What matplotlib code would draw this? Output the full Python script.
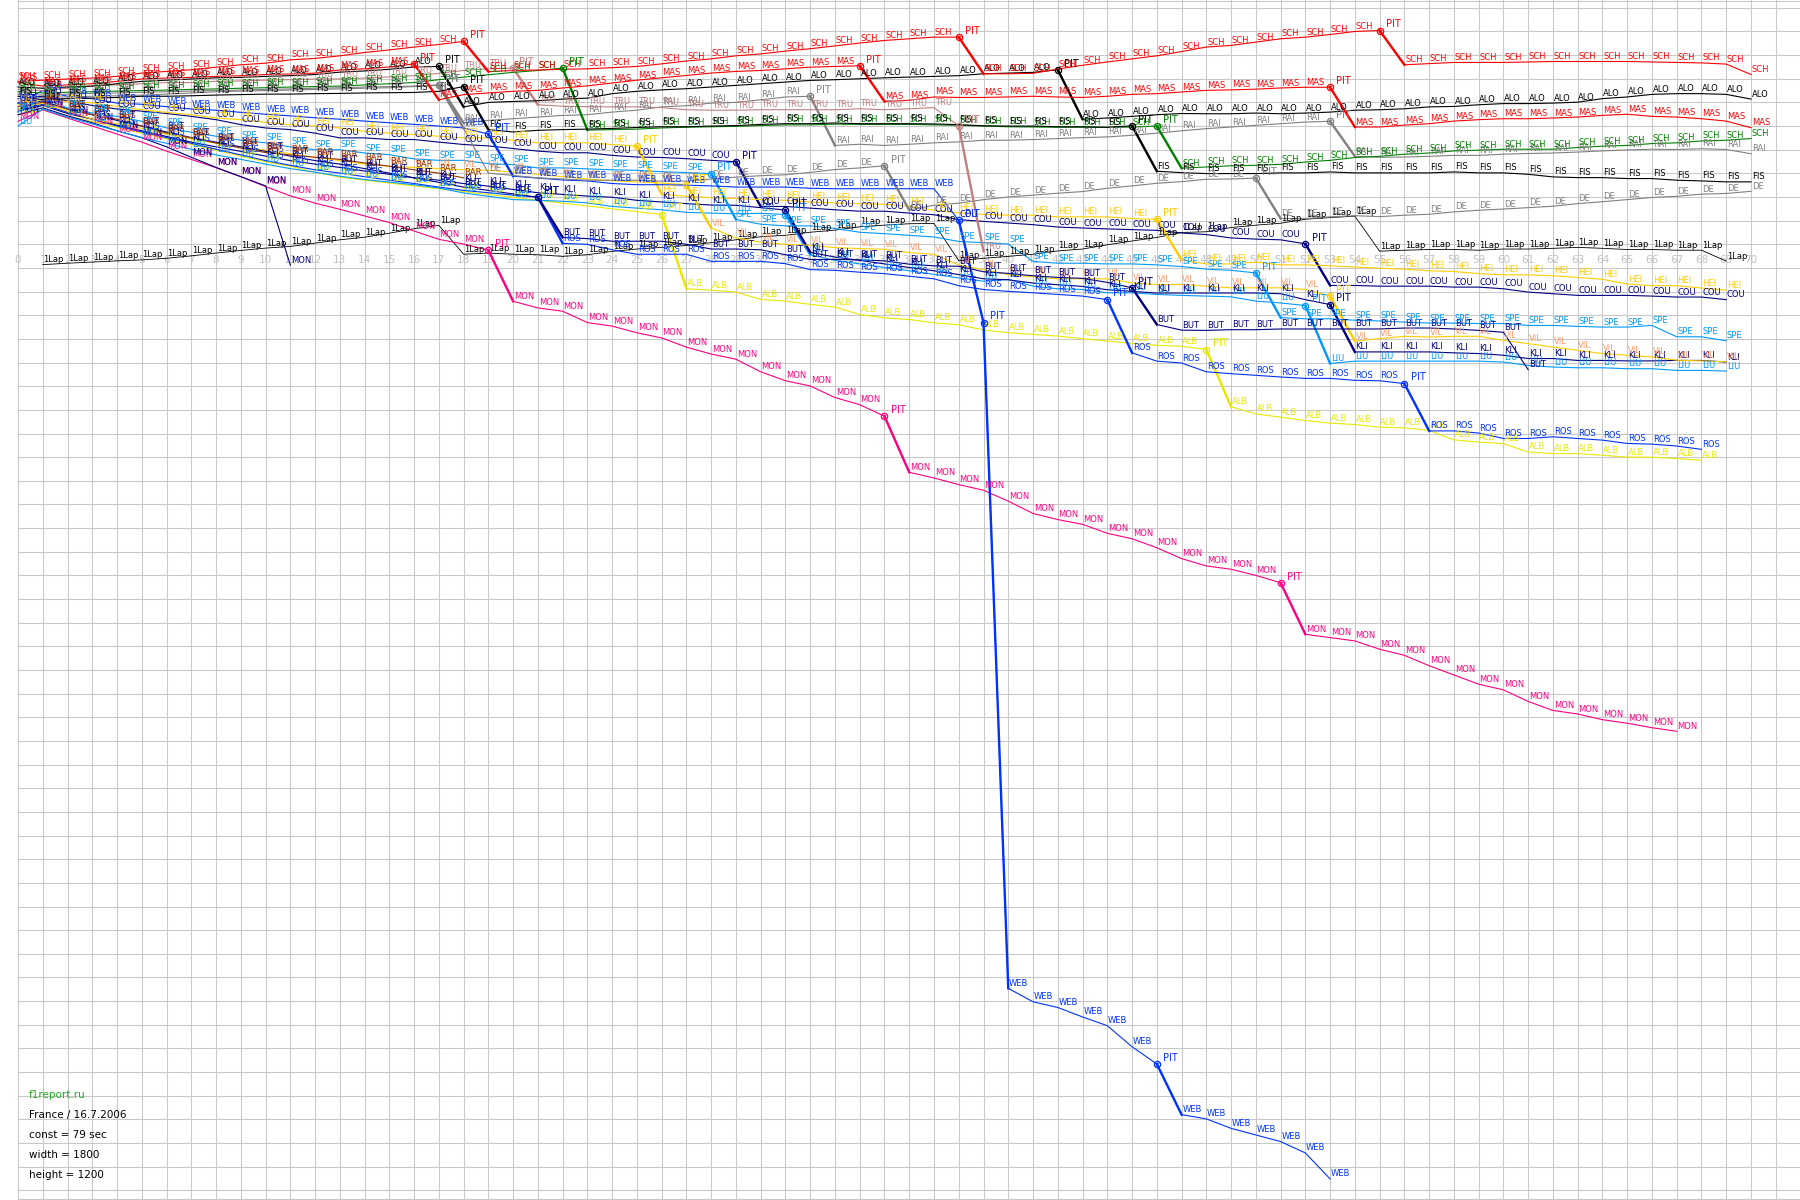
import numpy as np
import matplotlib.pyplot as plt

# gap in seconds against a 79 s/lap reference, one value per lap from lap 0
sch = [75.5, 76, 76.5, 76.9, 77.6, 79, 79.7, 80.4, 81.5, 82.5, 83.2, 84.6, 85.2, 86.3, 87.7, 88.8, 90, 91.1, 92.4,
       79.6, 80.1, 80.3, 80.6, 80.8,
       81.3, 81.8, 82.9, 84.1, 85, 86.3, 87.1, 88.3, 89.3, 90.5, 91.7, 92.8, 93.5, 94.2, 94.2,
       78.7, 78.7, 78.9, 80.7, 82.3, 83.7, 85, 86.3, 88.1, 90, 90.7, 92.1, 93.5, 94.2, 95.3, 96.6, 97,
       82.5, 83, 83.5, 83.5, 83.5, 83.7, 83.9, 83.9, 83.9, 83.9, 83.7, 83.5, 83.3, 82.8, 78.4]
mas = [75, 73.5, 74, 74.5, 75.5, 76.5, 76.9, 77.2, 77.6, 77.9, 78.4, 78.6, 79, 80.3, 80.8, 81.6, 82.9,
       67.7, 69.9, 70.6, 71.3, 71.7, 72.7, 73.6, 74.8, 76, 77, 78, 79, 79.7, 80.1, 80.8, 81.5, 81.8, 82.1,
       67, 67.5, 68.9, 68.7, 68.7, 68.9, 69.2, 68.9, 68.7, 69.2, 70, 70.3, 71, 71.7, 71.9, 72.2, 72.7, 73, 73,
       56.2, 56.2, 57, 57.6, 58.7, 59.3, 59.7, 59.7, 60, 60.4, 61.1, 61.6, 60.7, 60.4, 59.7, 58.7, 55.9]
alo = [73.1, 72.6, 73.1, 73.5, 74.5, 75.5, 76, 76.5, 77, 77.2, 77.6, 77.9, 78.4, 79.4, 79.9, 80.6, 81.6, 81.8,
       64.7, 66.6, 67, 67.3, 68, 68.4, 70.3, 71.3, 71.9, 72.4, 73.1, 73.8, 74.5, 75.2, 75.9, 76.2, 76.6, 77,
       77.3, 77.6, 77.9, 78.7, 79, 79.3, 80.4,
       59.5, 60, 60.7, 61.4, 61.9, 61.8, 61.8, 62.1, 61.8, 62.1, 62.5, 63.3, 63.5, 63.9, 64.7, 64.9, 65.6,
       66.1, 66.1, 66.3, 66.7, 68.2, 68.9, 70, 70.3, 70.3, 70, 68]
fis = [69.2, 67.7, 68.2, 68.4, 68.7, 69.2, 69.2, 69.4, 69.7, 69.9, 70.1, 70.1, 70.3, 70.4, 70.6, 70.7, 70.8, 71.3, 73.3,
       55.1, 54.1, 54.8, 55.1, 55.3, 55.6, 56, 56.3, 56.3, 56.6, 56.8, 57.3, 57.6, 57.6, 57.9, 57.6, 57.6, 57.6,
       57.5, 57.2, 56.7, 56.6, 56.6, 56.3, 56.3, 56.1, 56.7,
       37.5, 36.9, 36.5, 36.5, 36.5, 36.8, 36.8, 37.2, 36.8, 36.8, 36.8, 36.8, 37.2, 36.8, 36.8, 36.2, 35.1,
       34.8, 34.8, 34.4, 34.4, 33.7, 33.4, 33, 33]
sch_r = [71.1, 70.6, 70.9, 71.1, 71.4, 71.6, 71.8, 72.1, 72.3, 72.6, 72.8, 73.1, 73.3, 73.5, 74, 74.5, 75, 76.2,
         77.3, 78.3, 79.3, 80.1, 81.1,
         54.9, 55.1, 55.3, 55.8, 56.1, 56.3, 56.5, 56.8, 57.1, 57.1, 57.4, 57.3, 57.3, 57.3, 57.1, 56.9, 56.6,
         56.3, 56.2, 56.1, 56.1, 56, 56.2, 56.6,
         38.8, 39.3, 39.8, 40, 40.4, 41.4, 42.1, 43.3, 43.8, 44.7, 45.2, 46.1, 46.4, 46.8, 46.8, 46.8, 47.5,
         48.1, 48.4, 49.2, 49.5, 50.3, 50.6, 51.3]
tru = [72.1, 71.6, 72.6, 73.5, 74, 74.5, 75, 75, 75.5, 75.7, 76, 76.2, 76.5, 76.5, 76.9, 77.4, 77.9, 78.9, 80.1,
       80.8, 81.1,
       65.6, 65, 64.8, 64.7, 64.7, 64.4, 63.5, 63.3, 63.3, 63.5, 63.5, 63.5, 63.5, 63.9, 63.5, 63.9, 64.4,
       56.7, 3.6]
rai = [70.1, 69.7, 70.1, 70.4, 70.6, 70.9, 71.1, 71.4, 71.6, 71.8, 72.1, 72.3, 72.6, 72.8, 73.1, 73.3, 73.5, 74,
       57.9, 59, 59.7, 60.4, 61.1, 61.4, 62.5, 63.3, 64.7, 65.2, 66.3, 66.6, 67.7, 68.9, 69.2,
       48.4, 48.9, 48.4, 48.9, 49.5, 49.9, 50.6, 50.6, 50.9, 51.3, 51.7, 52, 52.7, 53.6, 54.6, 55.5, 56.2,
       56.9, 57.6, 58.3, 58.6,
       43.8, 43.4, 43.5, 43.8, 44.2, 44.2, 44.7, 45, 45.2, 45.6, 46.1, 46.5, 46.8, 46.7, 47, 46.7, 44.9]
dlr = [68.2, 68.7, 68.9, 69.2, 69.4, 69.7, 70.1, 70.6, 71.1, 71.4, 71.6, 71.8, 72.1, 72.3, 72.6, 72.8, 73.3, 73.8,
       55.6, 36.7, 35.7, 34.7, 34.2, 33.7, 33.7, 33.7, 33.3, 33.3, 34.2, 35, 35.6, 36, 37, 38.2, 38.9, 39.8,
       21.1, 23.1, 24, 25.5, 26.6, 27.4, 28.2, 28.9, 30.3, 31.3, 32.4, 33.1, 34.1, 34.2, 34.6,
       17.5, 17.5, 18.2, 18.7, 18.3, 18.9, 19.3, 20.3, 21, 21.5, 22.1, 22.7, 23.8, 24.6, 25.5, 26.4, 26.9,
       27.8, 28.1, 29]
web = [66.3, 71.6, 69.2, 68.2, 66.3, 65.8, 64.8, 63.8, 63.3, 62.4, 61.6, 60.9, 60.1, 59.5, 58.7, 58, 57.3, 56.6,
       55.8, 53.2,
       35.4, 34.6, 33.8, 33.4, 32.3, 31.8, 31.8, 31.6, 31.3, 30.8, 30.8, 30.8, 30.3, 30.1, 30.1, 30.1, 30.1, 30.1,
       16.7, -26.5, -308, -313.7, -316.1, -320.1, -323.8, -332.7, -340, -361.4, -363.2, -367.2, -370, -372.8,
       -377.6, -388.6]
hei = [65.6, 67.8, 67, 66.4, 64.9, 63.5, 62.4, 61.4, 60, 59.3, 58.2, 57.2, 56.6, 55.8, 54.4, 53.6, 53, 52.3,
       51.6, 51.6, 50.6, 49.5, 49.5, 49.5, 48.8, 48.1,
       27.8, 26.9, 26.3, 26, 25.5, 25.2, 24.5, 24.1, 23.8, 23.5, 22.7, 21, 19.9, 19.3, 18.9, 18.9, 18.2, 18.2,
       18.2, 17.5, 17.1,
       0.1, -1.7, -1.7, -0.9, -2.1, -2.1, -2.5, -3, -3.5, -3.9, -4.6, -4.9, -5.8, -6.3, -6.3, -6.7, -7.4, -8.2,
       -10.2, -10.9, -10.9, -11.9, -12.8]
cou = [68.2, 69.2, 67.2, 65.3, 63.8, 62.9, 61.9, 60.7, 59.3, 57.2, 55.8, 55.1, 53.6, 51.6, 51.6, 50.9, 50.9,
       49.8, 48.8, 48.2, 47.1, 46, 45.3, 45.3, 44.2, 43.5, 43.3, 42.8, 42.1, 41.5,
       22.6, 22.6, 21.9, 21.2, 20.6, 20.6, 19.8, 19.1, 17, 16.3, 15.6, 14.9, 13.9, 13.5, 13.1, 12.8, 12.5, 11.4,
       10.7, 9.3, 8.8, 8.5, 6.8,
       -10.8, -10.8, -11.1, -11.1, -11.1, -11.5, -11.5, -12.2, -13.6, -14.3, -15, -15, -15, -15.3, -15.7,
       -15.7, -16.8]
spe = [62.4, 68.2, 64.3, 62.1, 60.7, 58.6, 55.8, 54, 52.3, 50.6, 49.5, 47.8, 46.6, 46.6, 45.2, 44.5, 42.7, 42.1,
       42.1, 40.7, 40.3, 38.9, 38.9, 38.5, 38.1, 37.9, 37.3, 36.9, 36.5,
       17.1, 15.1, 14.4, 14.4, 13.3, 11.7, 11.1, 10.4, 9.7, 7.8, 7.3, 6.7, -0.6, -1.4, -1.4, -1.7, -1.7, -2.1,
       -2.8, -3.9, -4.4, -5.5,
       -24.4, -24.9, -24.9, -25.5, -25.8, -26.3, -26.7, -26.7, -26.9, -26.9, -27.7, -27.7, -28.1, -28.4,
       -28.4, -27.7, -32.5, -32.5, -34.2]
vil = [63.8, 66.3, 62.9, 59.5, 57.5, 55.6, 53.2, 51.2, 49.3, 47.8, 46.4, 44.9, 43.4, 42, 40.5, 39.6, 39.1, 38.6,
       38.1, 37.9, 37.1, 36.2, 35.2, 34.2, 33.5, 33, 32.5, 31.8,
       13.5, 9.3, 7.5, 6.6, 6.2, 5.2, 4.8, 4.5, 3.1, 2.4, -2.2, -4.1, -6.2, -7.2, -8, -8, -8, -9.7, -10.4,
       -10.4, -11.1, -11.8, -11.8, -11.8, -12.5, -15.3,
       -34.3, -33.3, -32.3, -32.6, -32.3, -32.3, -34, -35.4, -36.8, -38.2, -39.6, -40.3, -41, -42.4, -42.7,
       -43.1]
kli = [62.9, 65.3, 61.9, 59.5, 57, 54.6, 52.2, 49.8, 47.8, 45.9, 43.9, 42, 40.5, 39.1, 37.6, 36.2, 34.7, 33.7,
       32.3, 31.2, 29.8, 28.4, 27.7, 27, 26.5, 25.2, 24.5, 23.8, 23.2, 23.1, 22.1, 21.1,
       3.2, 1.2, -0.2, -1.7, -3.2, -4.6, -6.2, -8, -8.4, -9.8, -10.5, -11.2, -12.6, -13.3, -14, -14, -14, -14,
       -14, -14.3, -16.8, -18.9,
       -38.9, -38.9, -38.9, -38.9, -39.3, -39.6, -40.3, -41.7, -41.7, -42.5, -42.5, -42.7, -42.7, -42.5,
       -42.5, -43.2]
liu = [56.6, 63.8, 60.4, 57.5, 54.6, 51.7, 49.3, 46.8, 44.4, 42.5, 40.5, 38.6, 37.1, 35.4, 34, 32.9, 31.8, 30.4,
       28.3, 26.9, 25.5, 25.2, 24.8, 24.1, 22.6, 21.9, 21.2, 20.1, 19.8, 19.5, 19.7, 19.2,
       2.2, -0.2, -1.7, -3.2, -4.6, -6.1, -7.6, -9, -8.3, -11.1, -12.2, -12.5, -13.9, -13.9, -14.6, -15, -15.3,
       -15.6, -17.4, -18.2, -19.3,
       -43.8, -42.8, -42.8, -42.8, -42.8, -42.8, -42.8, -43.2, -44.6, -45.3, -45.6, -45.6, -46, -46, -46.7,
       -46.7, -47]
ros = [63.8, 65.8, 62.4, 59.5, 56.6, 54.1, 51.7, 49.3, 46.8, 44.4, 42, 40, 38.1, 36.7, 35.2, 33.7, 32.3, 30.8,
       29.4, 28.4, 27.4, 26.5,
       7, 6.6, 4.3, 2.4, 2.4, 2.4, -0.6, -0.6, -0.6, -1.6, -4.1, -4.4, -5.2, -5.8, -6.9, -8, -10.9, -12.5,
       -13.3, -13.9, -14.6, -15.3, -16.8,
       -39.3, -42.8, -43.6, -47.3, -48.1, -48.8, -49.5, -50.1, -50.1, -50.9, -51.1, -52.3,
       -72.3, -72.3, -73.2, -75.5, -75.5, -74.8, -75.5, -76.2, -77.6, -77.9, -78.7, -80.1]
but = [66.3, 67.2, 63.8, 61.4, 59, 56.6, 54.1, 51.7, 49.8, 47.8, 45.9, 43.9, 42, 40.5, 38.6, 36.7, 34.7, 32.8,
       30.8, 29.4, 27.9, 26.5,
       9.5, 9, 7.9, 7.9, 7.9, 6.6, 4.6, 4.6, 4.3, 2.2, 0.2, 0.2, 0, -0.4, -1.8, -2.5, -2.7, -5, -5.7, -6.7,
       -7.4, -7.8, -9.5, -11.8,
       -27.3, -29.7, -29.8, -29.5, -29.5, -29.2, -29.2, -29.2, -29.2, -29.2, -28.8, -28.8, -29.2, -29.8,
       -30.6, -46.4]
alb = [61.4, 63.3, 60.9, 58.5, 56.1, 53.6, 51.2, 48.8, 46.4, 43.9, 41.5, 39.6, 37.1, 35, 33.7, 32.5, 31.3, 30.1,
       28.9, 27.7, 26.5, 25.2, 24, 22.8, 21.6, 20.4, 19.2,
       -12.2, -12.8, -13.6, -16.7, -17.4, -18.8, -19.9, -23.1, -24.5, -25.2, -26.6, -27.4, -29.6, -30.8,
       -31.5, -32.2, -33.3, -34.3, -35.3, -36.1, -36.5, -37.9,
       -62.1, -65.1, -66.5, -67.9, -69, -69.6, -70.7, -71, -72.1, -76.1, -77, -77.7, -81.2, -81.9, -81.9,
       -82.6, -83.4, -83.4, -84, -84.7]
mon = [58.6, 63.5, 60, 56.6, 53.2, 49.8, 46, 42.5, 39, 35.2, 31, 27.1, 24, 21.4, 18.6, 15.8, 12.2, 8.7, 6.7, 4.1,
       -17.5, -20.3, -21.7, -26.5, -28, -30.8, -33, -36.9, -39.8, -42, -47.3, -51.1, -53.3, -58.2, -61.2,
       -66.1,
       -89.8, -92.2, -95, -97.4, -102, -107.2, -109.8, -111.8, -115.6, -117.9, -121.7, -126.3, -129.4,
       -130.8, -133.4, -136.5,
       -158.3, -159.7, -161.1, -164.6, -167.2, -171.6, -175.5, -179.4, -181.8, -186.7, -190.5, -192, -194.4,
       -195.9, -197.8, -199.3]
mon_sa = [61.4, 64.3, 60.9, 58, 54.6, 51.7, 47.8, 43.4, 39.1, 35.2, 31.3, -2.2]
bar = [64.8, 66.7, 63.8, 61.4, 59.5, 56.6, 53.6, 51.7, 49.4, 47.3, 45.4, 44.4, 43.4, 42.5, 41, 39.6, 38.1, 36.7,
       34.7]
# leader one lap ahead, laps 1..69
one_lap = [-2, -1.4, -0.9, -0.4, 0, 0.7, 1.7, 2.9, 4, 5, 5.7, 7.1, 8.5, 9.6, 11.3, 13.2, 14.6,
           2.4, 2.9, 2.4, 2.2, 1.5, 2.2, 3.6, 4.6, 5.3, 6.1, 7.3, 8.5, 9.8, 10.4, 11.7, 12.6, 14, 14.7, 15.3, 15.4,
           -0.3, 0.7, 1.5, 2.4, 3.8, 4.6, 6.4, 8, 9.5, 11.6, 11.9, 13.7, 14.7, 15.5, 17.2, 17.9, 18.5,
           3.7, 4.1, 4.4, 4.4, 4.1, 4.6, 4.6, 4.9, 5.3, 4.9, 4.4, 4.4, 4.1, 4.1, -0.5]

# pit laps
pit_sch = [18, 38, 55]
pit_mas = [16, 34, 53]
pit_alo = [17, 42]
pit_fis = [18, 45]
pit_sch_r = [22, 46]
pit_tru = [20, 38]
pit_rai = [17, 32, 53]
pit_dlr = [17, 35, 50]
pit_web = [19, 38, 39, 46]
pit_hei = [25, 46]
pit_cou = [29, 52]
pit_spe = [28, 50]
pit_vil = [27, 53]
pit_kli = [31, 53]
pit_liu = [31, 52]
pit_ros = [21, 44, 56]
pit_but = [21, 45]
pit_alb = [26, 48]
pit_mon = [19, 35, 51]

info = ['f1report.ru', 'France / 16.7.2006', 'const = 79 sec', 'width = 1800', 'height = 1200']

RED, BLK, GRY, NAVY = '#ff0000', '#000000', '#808080', '#000080'
drivers = [
    ('ALB', alb, '#e8e800', '#e8e800', pit_alb),
    ('MON', mon, '#ff0080', '#ff0080', pit_mon),
    ('MON', mon_sa, NAVY, NAVY, []),
    ('ROS', ros, '#0033ff', '#0033ff', pit_ros),
    ('LIU', liu, '#0099ff', '#0099ff', pit_liu),
    ('KLI', kli, NAVY, NAVY, pit_kli),
    ('VIL', vil, '#ffcc00', '#ff9966', pit_vil),
    ('BUT', but, NAVY, NAVY, pit_but),
    ('BAR', bar, '#993300', '#993300', []),
    ('SPE', spe, '#0099ff', '#0099ff', pit_spe),
    ('COU', cou, NAVY, NAVY, pit_cou),
    ('HEI', hei, '#ffcc00', '#ffcc00', pit_hei),
    ('WEB', web, '#0033ff', '#0033ff', pit_web),
    ('DE', dlr, GRY, GRY, pit_dlr),
    ('RAI', rai, GRY, GRY, pit_rai),
    ('TRU', tru, '#c08080', '#c08080', pit_tru),
    ('SCH', sch_r, '#008000', '#008000', pit_sch_r),
    ('FIS', fis, BLK, BLK, pit_fis),
    ('ALO', alo, BLK, BLK, pit_alo),
    ('MAS', mas, RED, RED, pit_mas),
    ('SCH', sch, RED, RED, pit_sch),
]

fig = plt.figure(figsize=(18, 12), dpi=100)
ax = fig.add_axes([0, 0, 1, 1])
ax.set_xlim(-0.727, 71.98)
ax.set_ylim(-397.5, 109.9)
ax.axis('off')

grid = '#c8c8c8'
for k in range(72):
    ax.plot([k, k], [-397.5, 109.9], color=grid, lw=0.75, zorder=0)
for g in list(np.arange(106.6, -400, -10)) + [-397.1, 109.5]:
    ax.plot([0, 72], [g, g], color=grid, lw=0.75, zorder=0)

for k in range(71):
    ax.text(k, 0, str(k), color='#c0c0c0', fontsize=7.5, ha='center', va='center', zorder=1)

# one lap down reference
lap1 = np.arange(1, len(one_lap) + 1)
ax.plot(lap1, one_lap, color='black', lw=0.6, zorder=2)
for k, v in zip(lap1, one_lap):
    ax.text(k + 0.03, v + 0.2, '1Lap', color='black', fontsize=6, ha='left', va='bottom', zorder=3)

for code, vals, lc, tc, pits in drivers:
    x = np.arange(len(vals))
    y = np.array(vals, dtype=float)
    ax.plot(x, y, color=lc, lw=0.8, zorder=2)
    for p in pits:
        if p + 1 < len(y):
            ax.plot([p, p + 1], [y[p], y[p + 1]], color=lc, lw=1.7, zorder=2)
    for k in range(len(y)):
        if k in pits:
            ax.plot(k, y[k], 'o', ms=4.5, mfc='none', mec=lc, mew=0.9, zorder=4)
            ax.plot(k, y[k], 'x', ms=2.5, color=lc, mew=0.6, zorder=4)
            ax.text(k + 0.25, y[k] + 0.5, 'PIT', color=lc, fontsize=7, ha='left', va='bottom', zorder=4)
        else:
            ax.text(k + 0.03, y[k] + 0.2, code, color=tc, fontsize=6, ha='left', va='bottom', zorder=3)

for i, line in enumerate(info):
    fig.text(29 / 1800, 1 - (1095 + 20 * i) / 1200, line, fontsize=7.5, va='center', ha='left',
             color='#22aa22' if i == 0 else 'black')

fig.savefig('out.png', dpi=100)
